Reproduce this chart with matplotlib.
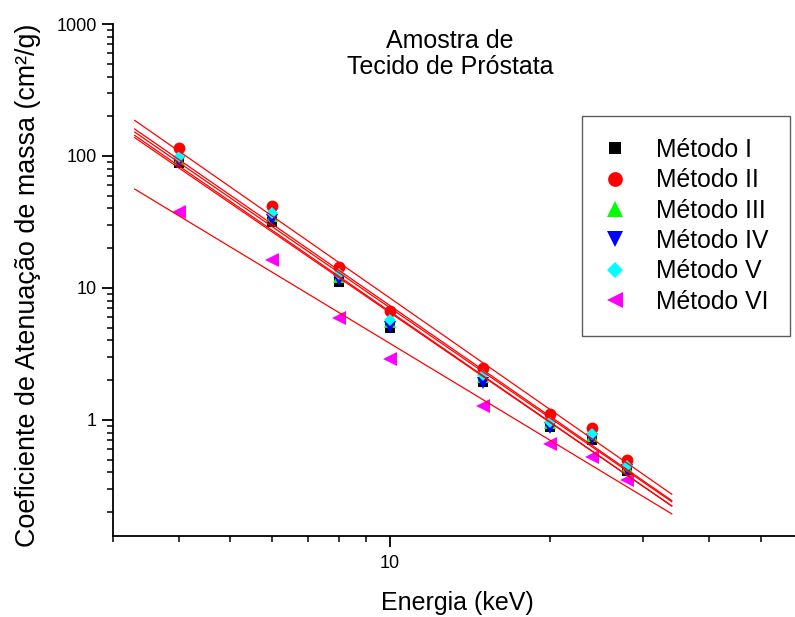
import matplotlib
matplotlib.use('Agg')
import matplotlib.pyplot as plt
import matplotlib.ticker as ticker
import numpy as np

plt.rcParams['font.family'] = ['Liberation Sans', 'DejaVu Sans']

# Energias (keV)
energia = np.array([4, 6, 8, 10, 15, 20, 24, 28])

# coeficientes de atenuacao de massa (cm2/g) por metodo
metodo_1 = [88, 31.8, 11.0, 4.95, 1.95, 0.89, 0.705, 0.407]
metodo_2 = [114, 42, 14.5, 6.7, 2.49, 1.11, 0.865, 0.497]
metodo_3 = [95, 35, 12.2, 5.5, 2.1, 0.95, 0.76, 0.44]
metodo_4 = [90.5, 33, 11.5, 5.1, 1.9, 0.865, 0.72, 0.42]
metodo_5 = [98.8, 36.8, 12.8, 5.72, 2.19, 0.97, 0.78, 0.449]
metodo_6 = [37.8, 16.3, 5.9, 2.9, 1.28, 0.655, 0.52, 0.351]

nomes = ['Método I', 'Método II', 'Método III', 'Método IV', 'Método V', 'Método VI']
faixa_ajuste = [3.3, 34]  # range of the fitted lines

series = [metodo_1, metodo_2, metodo_3, metodo_4, metodo_5, metodo_6]
estilos = [('s', 'k', 7), ('o', 'red', 8.5), ('^', 'lime', 9),
           ('v', 'blue', 9), ('D', 'cyan', 6.2), ('<', 'magenta', 9.5)]

fig = plt.figure(figsize=(7.95, 6.17), dpi=100)
ax = fig.add_axes([0.1418, 0.1313, 0.8677, 0.8298])

for vals, (mk, cor, ms), nome in zip(series, estilos, nomes):
    ax.plot(energia, vals, linestyle='none', marker=mk, color=cor,
            markersize=ms, markeredgewidth=0, label=nome, zorder=2)

# power-law fits (linear in log-log)
xf = np.logspace(np.log10(faixa_ajuste[0]), np.log10(faixa_ajuste[1]), 50)
for vals in series:
    b, a = np.polyfit(np.log10(energia), np.log10(vals), 1)
    ax.plot(xf, 10**(a + b*np.log10(xf)), color='red', lw=0.9, zorder=3)

ax.set_xscale('log')
ax.set_yscale('log')
ax.set_xlim(3, 60)
ax.set_ylim(0.132, 1000)

ax.spines['top'].set_visible(False)
ax.spines['right'].set_visible(False)
ax.spines['left'].set_linewidth(1.3)
ax.spines['bottom'].set_linewidth(1.3)

ax.xaxis.set_major_formatter(ticker.FormatStrFormatter('%g'))
ax.xaxis.set_minor_formatter(ticker.NullFormatter())
ax.yaxis.set_major_formatter(ticker.FormatStrFormatter('%g'))
ax.yaxis.set_minor_formatter(ticker.NullFormatter())
ax.tick_params(which='major', length=8, width=1.3, labelsize=13)
ax.tick_params(which='minor', length=4.5, width=1.1)
ax.tick_params(axis='x', which='major', pad=6)
ax.tick_params(axis='y', which='major', pad=3.5)

fig.text(457.6/795, 1 - 603/617, 'Energia (keV)', fontsize=18,
         ha='center', va='center')
fig.text(28/795, 1 - 285/617, 'Coeficiente de Atenuação de massa (cm²/g)',
         fontsize=19.4, rotation=90, ha='center', va='center')

fig.text(450/795, 1 - 41.5/617, 'Amostra de', fontsize=18, ha='center', va='center')
fig.text(450/795, 1 - 66.5/617, 'Tecido de Próstata', fontsize=18, ha='center', va='center')

leg = ax.legend(loc='upper left', bbox_to_anchor=(582/795, 1 - 116/617),
                bbox_transform=fig.transFigure, fontsize=17.8, frameon=True,
                fancybox=False, borderpad=0.88, handlelength=0.92,
                handletextpad=1.2, labelspacing=0.26, markerscale=1.25,
                borderaxespad=0)
leg.get_frame().set_edgecolor('#333333')
leg.get_frame().set_linewidth(1.0)

fig.savefig('out.png', dpi=100)
